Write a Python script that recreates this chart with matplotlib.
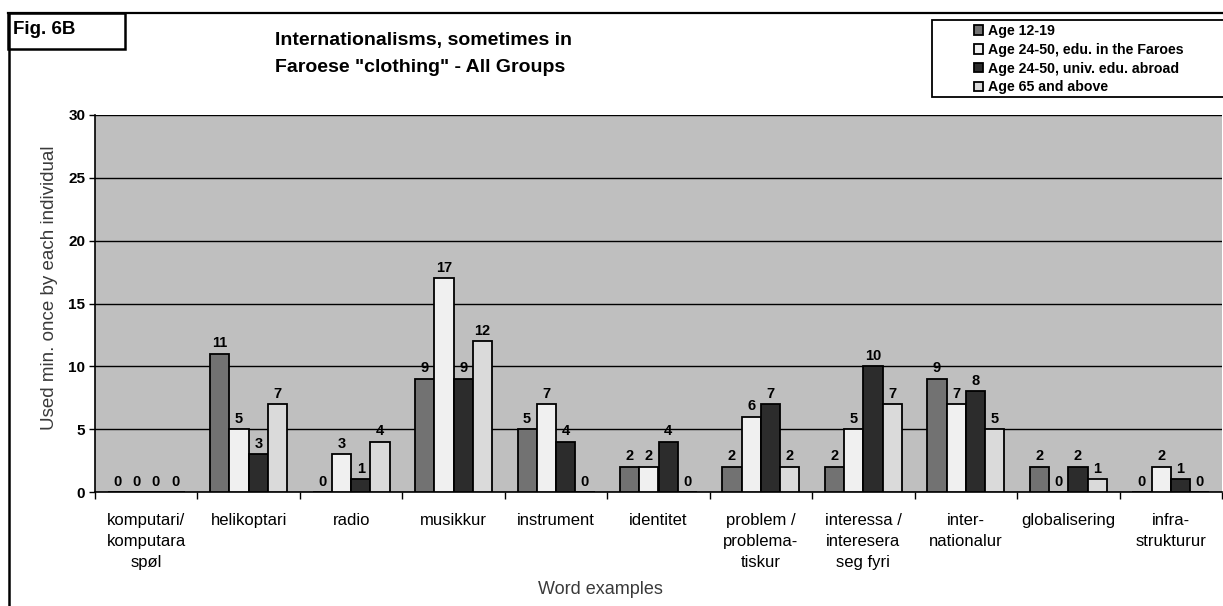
import matplotlib
matplotlib.use('Agg')
import matplotlib.pyplot as plt
import numpy as np
from matplotlib.patches import Rectangle
from matplotlib.lines import Line2D

categories = ["komputari/\nkomputara\nspøl", "helikoptari", "radio", "musikkur",
              "instrument", "identitet", "problem /\nproblema-\ntiskur",
              "interessa /\ninteresera\nseg fyri", "inter-\nnationalur",
              "globalisering", "infra-\nstrukturur"]
age_12_19 = [0, 11, 0, 9, 5, 2, 2, 2, 9, 2, 0]
age_24_50_faroes = [0, 5, 3, 17, 7, 2, 6, 5, 7, 0, 2]
age_24_50_abroad = [0, 3, 1, 9, 4, 4, 7, 10, 8, 2, 1]
age_65_above = [0, 7, 4, 12, 0, 0, 2, 7, 5, 1, 0]
series_labels = ["Age 12-19", "Age 24-50, edu. in the Faroes",
                 "Age 24-50, univ. edu. abroad", "Age 65 and above"]
yticks = [0, 5, 10, 15, 20, 25, 30]

plt.rcParams['font.family'] = ['Liberation Sans', 'DejaVu Sans']

W, H = 1223, 606
fig = plt.figure(figsize=(W / 100, H / 100), dpi=100)
fig.patch.set_facecolor('white')

def fx(px):
    return px / W

def fy(py):
    return 1 - py / H

cat_w = 103.8
ax = fig.add_axes([fx(95), fy(492), (1222 - 95) / W, (492 - 115) / H])
ax.set_facecolor('#bfbfbf')

series = [age_12_19, age_24_50_faroes, age_24_50_abroad, age_65_above]
colors = ['#727272', '#f0f0f0', '#2c2c2c', '#dadada']
bw = 0.188
x = np.arange(len(categories))
bars = []
for i, (vals, col, lab) in enumerate(zip(series, colors, series_labels)):
    b = ax.bar(x + (i - 1.5) * bw, vals, width=bw, color=col, edgecolor='black',
               linewidth=1.3, label=lab, zorder=3)
    bars.append(b)
    ax.bar_label(b, labels=[str(v) for v in vals], padding=2.5, fontsize=10.5,
                 fontweight='bold', zorder=4)

ax.set_ylim(0, 30)
ax.set_xlim(-0.5, -0.5 + (1222 - 95) / cat_w)
ax.set_yticks(yticks)
ax.set_yticklabels([str(t) for t in yticks], fontsize=11, fontweight='bold')
ax.yaxis.grid(True, color='black', linewidth=1.0, zorder=1)
ax.set_axisbelow(True)
ax.tick_params(axis='y', direction='out', length=4, width=1, pad=3)

ax.set_xticks(np.arange(len(categories) + 1) - 0.5)
ax.set_xticklabels([])
ax.tick_params(axis='x', which='major', direction='out', length=5, width=1)
ax.set_xticks(x, minor=True)
ax.set_xticklabels(categories, minor=True, fontsize=12, linespacing=1.5)
ax.tick_params(axis='x', which='minor', length=0, pad=15)

for s in ['top', 'right']:
    ax.spines[s].set_visible(False)
ax.spines['left'].set_linewidth(1.2)
ax.spines['bottom'].set_linewidth(1.2)

ax.set_ylabel("Used min. once by each individual", fontsize=13.5, color='#3a3a3a',
              va='center', ha='center')
ax.yaxis.set_label_coords(fx(50), fy(288), transform=fig.transFigure)

fig.text(fx(600), fy(590), "Word examples", fontsize=13, color='#3a3a3a',
         ha='center', va='center')

# Title
fig.text(fx(275), fy(40), "Internationalisms, sometimes in", fontsize=14,
         fontweight='bold', ha='left', va='center')
fig.text(fx(275), fy(68), 'Faroese "clothing" - All Groups', fontsize=14,
         fontweight='bold', ha='left', va='center')

# Frame lines
fig.add_artist(Line2D([fx(8), 1.0], [fy(13), fy(13)], transform=fig.transFigure,
                      color='black', linewidth=1.6))
fig.add_artist(Line2D([fx(9), fx(9)], [fy(13), 0.0], transform=fig.transFigure,
                      color='black', linewidth=1.8))
fig.add_artist(Rectangle((fx(8), fy(49)), fx(125) - fx(8), fy(13) - fy(49),
                         transform=fig.transFigure, fill=True, facecolor='white',
                         edgecolor='black', linewidth=1.8))
fig.text(fx(13), fy(30), "Fig. 6B", fontsize=13.5, fontweight='bold',
         ha='left', va='center')

# Legend
fig.add_artist(Rectangle((fx(932), fy(97)), fx(1240) - fx(932), fy(20) - fy(97),
                         transform=fig.transFigure, fill=True, facecolor='white',
                         edgecolor='black', linewidth=1.3))
leg = fig.legend(handles=bars, labels=series_labels, loc='upper left',
                 bbox_to_anchor=(fx(974), fy(24)), frameon=False, borderpad=0,
                 handlelength=0.65, handleheight=0.65, handletextpad=0.35,
                 labelspacing=0.34, prop={'weight': 'bold', 'size': 10.2},
                 borderaxespad=0)

fig.savefig('out.png', dpi=100)
